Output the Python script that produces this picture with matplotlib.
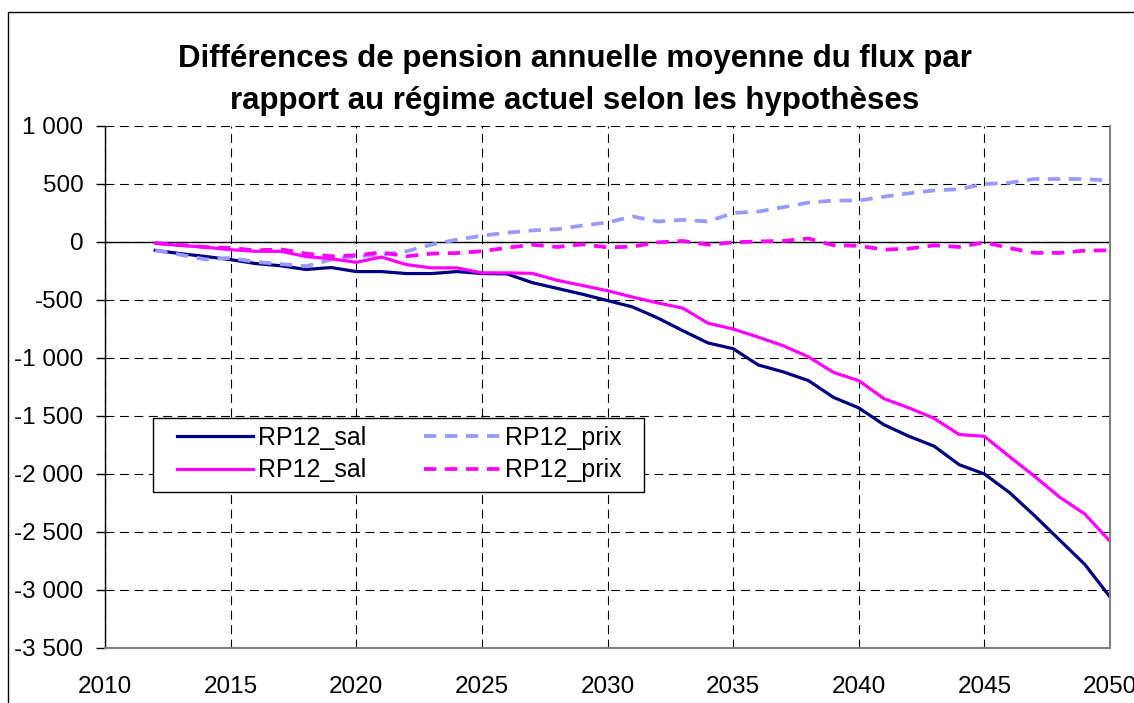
import matplotlib
matplotlib.use("Agg")
import matplotlib.pyplot as plt
from matplotlib.patches import Rectangle
from matplotlib.legend_handler import HandlerLine2D
from matplotlib.ticker import FuncFormatter, MultipleLocator

# ---- data ----
years = list(range(2012, 2051))

sal_navy = [-72, -100, -125, -152, -186, -205, -237, -220, -255, -255,
            -272, -272, -255, -272, -275, -350, -400, -450, -505, -560,
            -655, -765, -870, -920, -1060, -1120, -1195, -1340, -1430, -1575,
            -1675, -1760, -1920, -2000, -2160, -2360, -2570, -2780, -3060]

prix_light = [-72, -110, -150, -137, -172, -190, -209, -152, -123, -110,
              -80, -23, 20, 54, 80, 100, 110, 142, 168, 220,
              177, 191, 177, 250, 262, 300, 340, 357, 357, 391,
              420, 445, 455, 500, 511, 543, 543, 543, 528]

sal_magenta = [-10, -30, -45, -66, -80, -80, -125, -145, -175, -130,
               -195, -223, -223, -266, -266, -270, -330, -375, -420, -475,
               -525, -570, -700, -750, -820, -895, -990, -1125, -1195, -1350,
               -1430, -1520, -1660, -1675, -1850, -2020, -2200, -2345, -2580]

prix_magenta = [-9, -25, -43, -52, -72, -63, -100, -123, -115, -90,
                -123, -100, -95, -80, -50, -23, -43, -20, -46, -40,
                -3, 9, -23, -3, 5, 9, 30, -29, -32, -66,
                -57, -29, -43, -3, -52, -94, -94, -74, -72]

x_ticks = list(range(2010, 2051, 5))
title = "Différences de pension annuelle moyenne du flux par\nrapport au régime actuel selon les hypothèses"

plt.rcParams["font.family"] = ["Liberation Sans", "DejaVu Sans"]
plt.rcParams["axes.unicode_minus"] = False

W, H = 1134, 703
fig = plt.figure(figsize=(W / 100, H / 100), dpi=100)
fig.patch.set_facecolor("white")

# outer chart frame (extends past right/bottom edge)
fig.patches.append(Rectangle((8 / W, -0.2), 2.0, (H - 12) / H + 0.2,
                             transform=fig.transFigure, fill=False,
                             edgecolor="black", linewidth=1.0))

ax = fig.add_axes([105 / W, (H - 648) / H, (1110 - 105) / W, (648 - 126) / H])

l1, = ax.plot(years, sal_navy, color="#000080", linewidth=2.3, label="RP12_sal")
l2, = ax.plot(years, prix_light, color="#9999FF", linewidth=2.7,
              dashes=(3.3, 2.3), label="RP12_prix")
l3, = ax.plot(years, sal_magenta, color="#FF00FF", linewidth=2.3, label="RP12_sal")
l4, = ax.plot(years, prix_magenta, color="#FF00FF", linewidth=2.7,
              dashes=(3.3, 2.3), label="RP12_prix")

ax.set_xlim(2010, 2050)
ax.set_ylim(-3500, 1000)
ax.set_xticks(x_ticks)
ax.yaxis.set_major_locator(MultipleLocator(500))
ax.yaxis.set_major_formatter(FuncFormatter(lambda v, p: f"{int(v):,}".replace(",", " ")))

ax.grid(True, color="black", linewidth=0.8, linestyle=(0, (8, 5)))
ax.set_axisbelow(True)
ax.axhline(0, color="black", linewidth=1.0, zorder=1.5)

ax.tick_params(axis="x", length=0, pad=20, labelsize=17.5)
ax.tick_params(axis="y", length=6.5, width=1, direction="out", pad=9, labelsize=17.5)

ax.spines["top"].set_visible(False)
ax.spines["left"].set_color("black")
ax.spines["left"].set_linewidth(1.0)
ax.spines["right"].set_color("#808080")
ax.spines["right"].set_linewidth(1.5)
ax.spines["bottom"].set_color("#808080")
ax.spines["bottom"].set_linewidth(1.5)

fig.text(575 / W, 1 - 80 / H, title, ha="center", va="center",
         fontsize=22.5, fontweight="bold", linespacing=1.5)

# legend box drawn separately to match the wide Excel frame
fig.patches.append(Rectangle((153 / W, 1 - 492 / H), (644 - 153) / W, (492 - 418) / H,
                             transform=fig.transFigure, facecolor="white",
                             edgecolor="black", linewidth=1.0, zorder=3))
hmap = {h: HandlerLine2D(xpad=0.66) for h in (l1, l2, l3, l4)}
leg = fig.legend(handles=[l1, l3, l2, l4], loc="upper left",
                 bbox_to_anchor=(153 / W, 1 - 418 / H), ncol=2,
                 fontsize=18, frameon=False, handlelength=3.7,
                 handletextpad=0.2, columnspacing=1.66, labelspacing=0.36,
                 borderpad=0.3, borderaxespad=0, handler_map=hmap)
leg.set_zorder(4)

fig.savefig("out.png", dpi=100)
